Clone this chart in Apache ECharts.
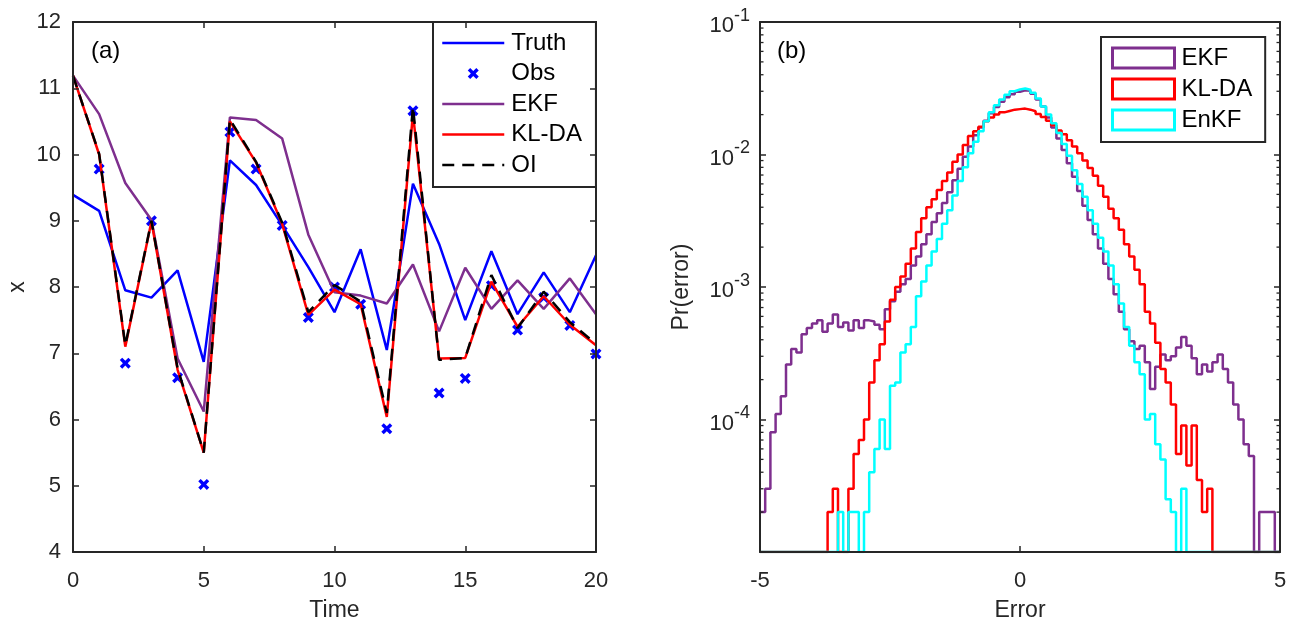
<!DOCTYPE html>
<html>
<head>
<meta charset="utf-8">
<script src="https://cdn.jsdelivr.net/npm/echarts@6/dist/echarts.min.js"></script>
<style>html,body{margin:0;padding:0;background:#fff}#c{width:1305px;height:627px}</style>
</head>
<body>
<div id="c"></div>
<script>
// ---------- Panel (a) data ----------
const times = [0,1,2,3,4,5,6,7,8,9,10,11,12,13,14,15,16,17,18,19,20];
const truth = [9.39,9.15,7.95,7.84,8.25,6.87,9.91,9.54,8.93,8.30,7.62,8.57,7.05,9.56,8.65,7.50,8.54,7.59,8.22,7.62,8.48];
const obs   = [null,9.78,6.85,9.00,6.63,5.02,10.34,9.78,8.93,7.54,8.00,7.74,5.86,10.66,6.40,6.62,8.02,7.35,7.84,7.42,6.99];
const ekf   = [11.19,10.61,9.57,9.01,6.92,6.12,10.56,10.52,10.24,8.79,7.92,7.87,7.75,8.34,7.33,8.29,7.67,8.10,7.67,8.13,7.59];
const klda  = [11.19,10.00,7.10,8.99,6.75,5.50,10.50,9.88,8.95,7.58,7.96,7.74,6.04,10.62,6.92,6.93,8.08,7.40,7.86,7.43,7.12];
const oi    = [11.19,10.01,7.12,9.00,6.77,5.50,10.53,9.89,8.97,7.62,8.03,7.78,6.10,10.72,6.90,6.93,8.18,7.38,7.93,7.47,7.14];

// ---------- Panel (b) data: histogram of errors, bins of width 0.1 from -5 to 5 ----------
const errBinStart = -5;
const errBinWidth = 0.1;
const pdfEKF = [
 2e-5,3e-5,8e-5,1.1e-4,1.5e-4,2.6e-4,3.4e-4,3.2e-4,4.4e-4,4.9e-4,
 5.3e-4,5.6e-4,4.6e-4,5.3e-4,6.2e-4,5.0e-4,5.4e-4,4.7e-4,5.6e-4,4.9e-4,
 5.6e-4,5.5e-4,5.2e-4,4.8e-4,6.8e-4,7.8e-4,9.2e-4,1.05e-3,1.15e-3,1.45e-3,
 1.7e-3,2.1e-3,2.5e-3,3.1e-3,3.6e-3,4.3e-3,5.2e-3,6.4e-3,7.8e-3,9.6e-3,
 1.15e-2,1.4e-2,1.6e-2,1.8e-2,2.05e-2,2.28e-2,2.5e-2,2.7e-2,2.85e-2,2.98e-2,
 3.05e-2,3.03e-2,2.88e-2,2.6e-2,2.3e-2,1.9e-2,1.6e-2,1.32e-2,1.08e-2,8.6e-3,
 6.8e-3,5.3e-3,4.1e-3,3.2e-3,2.5e-3,1.95e-3,1.5e-3,1.15e-3,8.8e-4,6.5e-4,
 4.8e-4,3.9e-4,3.4e-4,3.6e-4,2.7e-4,1.7e-4,2.5e-4,3.1e-4,2.8e-4,3.0e-4,
 3.5e-4,4.2e-4,3.6e-4,2.9e-4,2.2e-4,2.6e-4,2.3e-4,2.7e-4,3.1e-4,2.4e-4,
 1.9e-4,1.3e-4,1.0e-4,6.5e-5,5.3e-5,0,2e-5,2e-5,2e-5,0
];
const pdfKLDA = [
 0,0,0,0,0,0,0,0,0,0,
 0,0,0,2e-5,3e-5,0,0,3e-5,5.5e-5,7e-5,
 1e-4,1.9e-4,2.8e-4,3.7e-4,5.5e-4,8e-4,1.0e-3,1.2e-3,1.5e-3,1.95e-3,
 2.6e-3,3.3e-3,4.0e-3,4.6e-3,5.4e-3,6.3e-3,7.3e-3,8.8e-3,1.0e-2,1.18e-2,
 1.38e-2,1.5e-2,1.62e-2,1.78e-2,1.9e-2,2.0e-2,2.08e-2,2.13e-2,2.18e-2,2.2e-2,
 2.22e-2,2.18e-2,2.12e-2,2.02e-2,1.92e-2,1.8e-2,1.66e-2,1.52e-2,1.42e-2,1.28e-2,
 1.15e-2,1.02e-2,9.0e-3,7.9e-3,6.9e-3,5.8e-3,4.8e-3,3.9e-3,3.3e-3,2.7e-3,
 2.1e-3,1.7e-3,1.35e-3,1.05e-3,6.5e-4,5.3e-4,3.8e-4,2.4e-4,1.9e-4,1.3e-4,
 5.5e-5,9e-5,4.5e-5,9e-5,3.5e-5,2e-5,3e-5,0,0,0,
 0,0,0,0,0,0,0,0,0,0
];
const pdfEnKF = [
 0,0,0,0,0,0,0,0,0,0,
 0,0,0,0,0,2e-5,0,2e-5,2e-5,0,
 2e-5,4e-5,6e-5,1e-4,6e-5,1.8e-4,1.9e-4,3.2e-4,3.7e-4,5e-4,
 8.5e-4,1.1e-3,1.45e-3,1.85e-3,2.3e-3,3.0e-3,3.8e-3,4.9e-3,6.3e-3,8.0e-3,
 1.02e-2,1.25e-2,1.5e-2,1.78e-2,2.08e-2,2.35e-2,2.6e-2,2.82e-2,3.0e-2,3.1e-2,
 3.15e-2,3.08e-2,2.92e-2,2.65e-2,2.3e-2,2.0e-2,1.72e-2,1.45e-2,1.2e-2,9.8e-3,
 7.6e-3,6.0e-3,4.8e-3,3.8e-3,3.0e-3,2.35e-3,1.85e-3,1.45e-3,1.05e-3,7.5e-4,
 5e-4,3.6e-4,2.7e-4,2.2e-4,1.0e-4,1.1e-4,6.5e-5,5e-5,2.5e-5,2e-5,
 0,3e-5,0,0,0,0,0,0,0,0,
 0,0,0,0,0,0,0,0,0,0
];
const logFloor = 1e-5;   // axis bottom; empty bins drawn on it
const logTop = 1e-1;

// ---------- helpers ----------
const FONT = "'Liberation Sans', Arial, Helvetica, sans-serif";
const AX = '#262626';
function pairs(xs, ys){ const out=[]; xs.forEach((x,i)=>{ if(ys[i]!==null) out.push([x, ys[i]]); }); return out; }
function stairs(vals){
  const pts = vals.map((v,i)=>[+(errBinStart+i*errBinWidth).toFixed(3), v>0 ? v : logFloor]);
  pts.push([+(errBinStart+vals.length*errBinWidth).toFixed(3), pts[pts.length-1][1]]);
  return pts;
}
const minorTickVals = [];
for (let d=-5; d<=-2; d++) for (let k=2; k<=9; k++) minorTickVals.push(k*Math.pow(10,d));

const xMark = 'path://M0,2.2L2.2,0L5,2.8L7.8,0L10,2.2L7.2,5L10,7.8L7.8,10L5,7.2L2.2,10L0,7.8L2.8,5Z';

function frameAxis(extra){
  return Object.assign({
    z:5,
    axisLine:{show:true, onZero:false, lineStyle:{color:AX, width:2}},
    axisTick:{show:true, inside:true, length:6, lineStyle:{color:AX, width:1.5}},
    splitLine:{show:false},
    axisLabel:{color:AX, fontSize:22, fontFamily:FONT},
    nameTextStyle:{color:AX, fontSize:23, fontFamily:FONT}
  }, extra);
}

const chart = echarts.init(document.getElementById('c'), null, {renderer:'canvas'});
chart.setOption({
  animation:false,
  backgroundColor:'#fff',
  textStyle:{fontFamily:FONT},
  grid:[
    {left:73, top:22, width:523, height:535},
    {left:760, top:22, width:520, height:535}
  ],
  xAxis:[
    frameAxis({gridIndex:0, type:'value', min:0, max:20, interval:5, position:'bottom',
      axisLabel:{color:AX, fontSize:22, fontFamily:FONT, margin:18},
      name:'Time', nameLocation:'middle', nameGap:47}),
    frameAxis({gridIndex:0, type:'value', min:0, max:20, interval:5, position:'top', axisLabel:{show:false}}),
    frameAxis({gridIndex:1, type:'value', min:-5, max:5, interval:5, position:'bottom',
      axisLabel:{color:AX, fontSize:22, fontFamily:FONT, margin:18},
      name:'Error', nameLocation:'middle', nameGap:47}),
    frameAxis({gridIndex:1, type:'value', min:-5, max:5, interval:5, position:'top', axisLabel:{show:false}})
  ],
  yAxis:[
    frameAxis({gridIndex:0, type:'value', min:4, max:12, interval:1, position:'left',
      axisLabel:{color:AX, fontSize:22, fontFamily:FONT, margin:12},
      name:'x', nameLocation:'middle', nameGap:44}),
    frameAxis({gridIndex:0, type:'value', min:4, max:12, interval:1, position:'right', axisLabel:{show:false}}),
    frameAxis({gridIndex:1, type:'log', logBase:10, min:logFloor, max:logTop, position:'left',
      axisLabel:{color:AX, fontFamily:FONT, margin:10,
        formatter:function(v){ const e=Math.round(Math.log10(v)); if(e<=-5) return ''; return '{b|10}{s|'+e+'}'; },
        rich:{b:{fontSize:22, lineHeight:30, verticalAlign:'bottom', color:AX, fontFamily:FONT},
              s:{fontSize:18, lineHeight:17, verticalAlign:'top', color:AX, fontFamily:FONT}}},
      name:'Pr(error)', nameLocation:'middle', nameGap:67}),
    frameAxis({gridIndex:1, type:'log', logBase:10, min:logFloor, max:logTop, position:'right', axisLabel:{show:false}})
  ],
  legend:[
    {
      data:['Truth', {name:'Obs', itemStyle:{opacity:1}}, 'EKF','KL-DA','OI'],
      orient:'vertical', left:433, top:22,
      padding:[9,14,10,8], itemWidth:62, itemHeight:11, itemGap:6.5,
      borderColor:AX, borderWidth:2, backgroundColor:'#fff',
      textStyle:{fontSize:24, lineHeight:24, color:'#000', fontFamily:FONT, padding:[0,0,0,2]},
      lineStyle:{width:2.5},
      itemStyle:{opacity:0},
      selectedMode:false
    },
    {
      data:[
        {name:'EKF ', icon:'rect', itemStyle:{color:'rgba(0,0,0,0)', borderColor:'#7E2F8E', borderWidth:3}},
        {name:'KL-DA ', icon:'rect', itemStyle:{color:'rgba(0,0,0,0)', borderColor:'#FF0000', borderWidth:3}},
        {name:'EnKF', icon:'rect', itemStyle:{color:'rgba(0,0,0,0)', borderColor:'#00FFFF', borderWidth:3}}
      ],
      formatter:function(n){ return n.trim(); },
      orient:'vertical', left:1101, top:37,
      padding:[9,13,10,10], itemWidth:62, itemHeight:20, itemGap:7,
      borderColor:AX, borderWidth:2, backgroundColor:'#fff',
      textStyle:{fontSize:24, lineHeight:24, color:'#000', fontFamily:FONT, padding:[0,0,0,2]},
      selectedMode:false
    }
  ],
  graphic:[
    {type:'text', left:91, top:39, style:{text:'(a)', fontSize:24, fill:'#000', fontFamily:FONT}},
    {type:'text', left:777, top:39, style:{text:'(b)', fontSize:24, fill:'#000', fontFamily:FONT}}
  ],
  series:[
    {name:'Truth', type:'line', xAxisIndex:0, yAxisIndex:0, data:pairs(times,truth), showSymbol:false, symbol:'none',
      lineStyle:{color:'#0000FF', width:2.5}, itemStyle:{color:'#0000FF'}},
    {name:'Obs', type:'scatter', xAxisIndex:0, yAxisIndex:0, data:pairs(times,obs), symbol:xMark, symbolSize:11, symbolKeepAspect:true,
      itemStyle:{color:'#0000FF', opacity:1}},
    {name:'EKF', type:'line', xAxisIndex:0, yAxisIndex:0, data:pairs(times,ekf), showSymbol:false, symbol:'none',
      lineStyle:{color:'#7E2F8E', width:2.5}, itemStyle:{color:'#7E2F8E'}},
    {name:'KL-DA', type:'line', xAxisIndex:0, yAxisIndex:0, data:pairs(times,klda), showSymbol:false, symbol:'none',
      lineStyle:{color:'#FF0000', width:2.5}, itemStyle:{color:'#FF0000'}},
    {name:'OI', type:'line', xAxisIndex:0, yAxisIndex:0, data:pairs(times,oi), showSymbol:false, symbol:'none',
      lineStyle:{color:'#000000', width:2.5, type:[12,8]}, itemStyle:{color:'#000000'}},

    {name:'EKF ', type:'line', xAxisIndex:2, yAxisIndex:2, data:stairs(pdfEKF), step:'end', showSymbol:false, symbol:'none',
      lineStyle:{color:'#7E2F8E', width:2.5}, itemStyle:{color:'#7E2F8E'}},
    {name:'KL-DA ', type:'line', xAxisIndex:2, yAxisIndex:2, data:stairs(pdfKLDA), step:'end', showSymbol:false, symbol:'none',
      lineStyle:{color:'#FF0000', width:2.5}, itemStyle:{color:'#FF0000'}},
    {name:'EnKF', type:'line', xAxisIndex:2, yAxisIndex:2, data:stairs(pdfEnKF), step:'end', showSymbol:false, symbol:'none',
      lineStyle:{color:'#00FFFF', width:2.5}, itemStyle:{color:'#00FFFF'}},
    {name:'minorTicks', type:'custom', xAxisIndex:2, yAxisIndex:2, silent:true, clip:false, z:10,
      data:minorTickVals.map(v=>[-5, v]), encode:{x:0, y:1},
      renderItem:function(params, api){
        const v = api.value(1);
        const a = api.coord([-5, v]);
        const b = api.coord([5, v]);
        const st = {stroke:AX, lineWidth:1.3};
        return {type:'group', children:[
          {type:'line', shape:{x1:a[0], y1:a[1], x2:a[0]+3.5, y2:a[1]}, style:st},
          {type:'line', shape:{x1:b[0]-3.5, y1:b[1], x2:b[0], y2:b[1]}, style:st}
        ]};
      }}
  ]
});
</script>
</body>
</html>
